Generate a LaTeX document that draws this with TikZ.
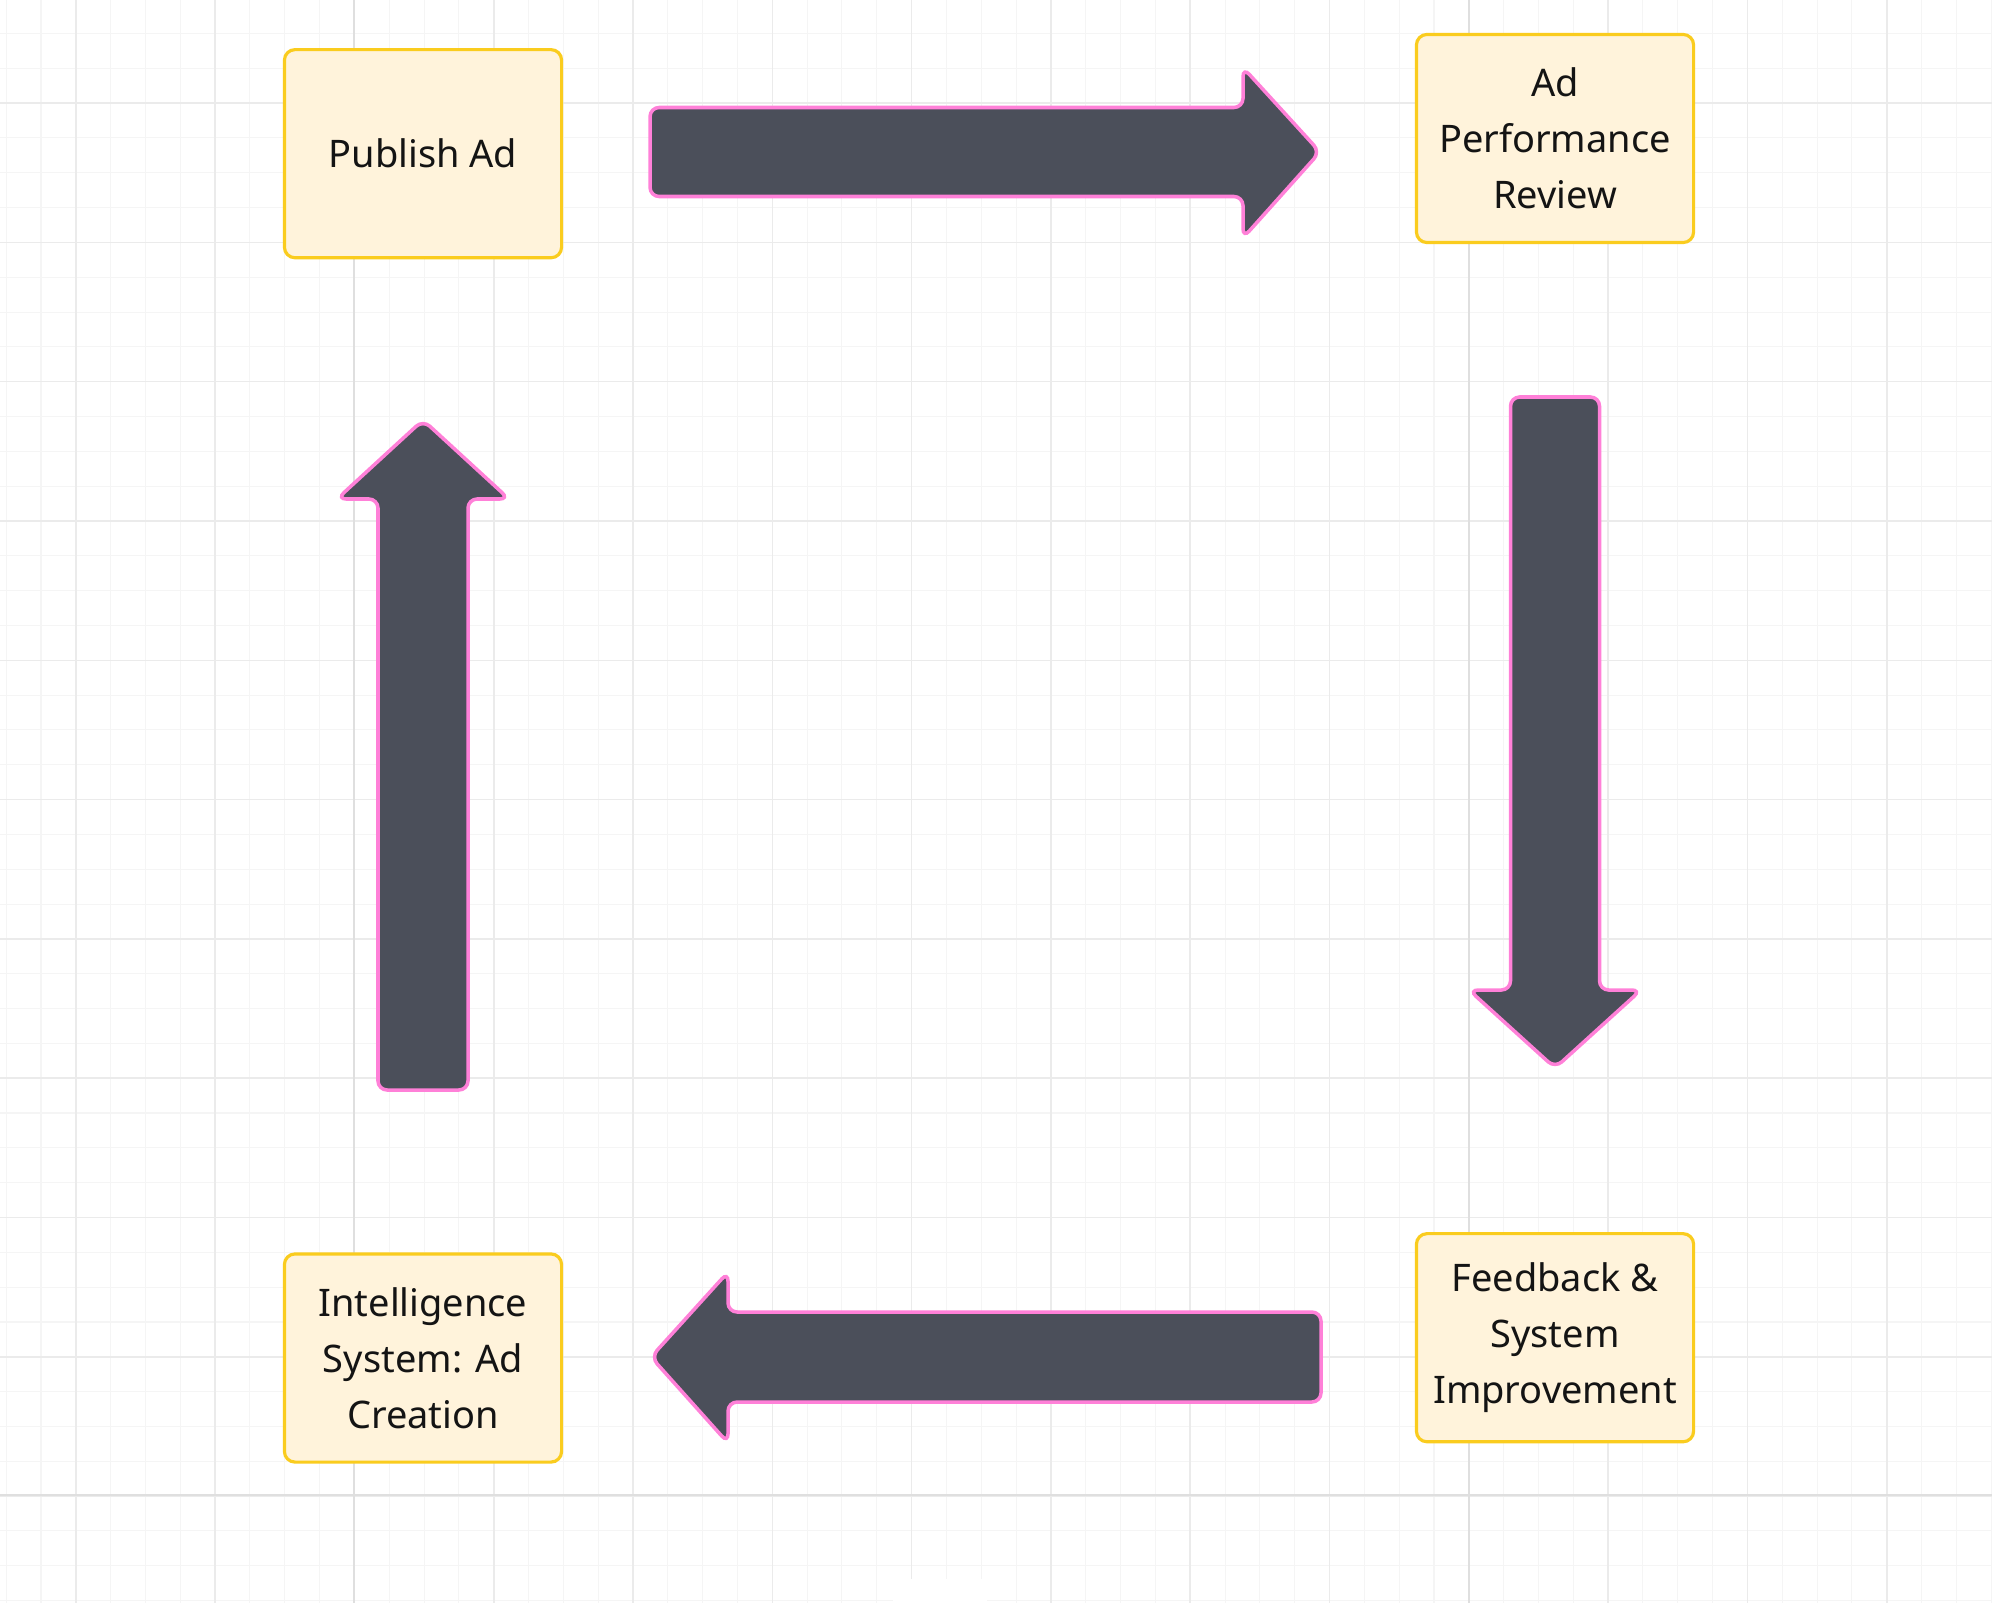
\documentclass[tikz,border=0pt]{standalone}
\usepackage{fontspec}
\setmainfont{Noto Sans}

\definecolor{boxfill}{HTML}{FFF3DB}
\definecolor{boxline}{HTML}{FACC1E}
\definecolor{arrowfill}{HTML}{4B4F5A}
\definecolor{arrowline}{HTML}{FF80D8}
\definecolor{gridminor}{HTML}{F5F5F5}
\definecolor{gridmajor}{HTML}{EBEBEB}
\definecolor{gridsuper}{HTML}{DFDFDF}
\definecolor{textdark}{HTML}{141414}

\tikzset{
    stagebox/.style={draw=boxline, line width=0.9pt, fill=boxfill, rounded corners=3pt,
        minimum width=2.77cm, minimum height=2.08cm, align=center, text=textdark,
        font=\fontsize{10.8}{15.9}\selectfont, inner sep=0pt},
    blockarrow/.style={draw=arrowline, line width=1pt, fill=arrowfill, rounded corners=2.6pt},
}

\begin{document}
\begin{tikzpicture}[x=0.01cm, y=-0.01cm]
        % canvas
        \fill[white] (0,0) rectangle (1992,1603);
        \useasboundingbox (0,0) rectangle (1992,1603);

        % Background grid
        \begin{scope}
            \clip (0,0) rectangle (1992,1603);
            \foreach \i in {0,...,60} {
                \draw[gridminor, line width=0.3pt] ({-63.5+\i*34.825},0) -- ++(0,1603);
                \draw[gridminor, line width=0.3pt] (0,{-1.4+\i*34.825}) -- ++(1992,0);
            }
            \foreach \i in {0,...,15} {
                \draw[gridmajor, line width=0.45pt] ({-63.5+\i*139.3},0) -- ++(0,1603);
                \draw[gridmajor, line width=0.45pt] (0,{-36.2+\i*139.3}) -- ++(1992,0);
            }
            \draw[gridsuper, line width=0.55pt] (354.4,0) -- (354.4,1603);
            \draw[gridsuper, line width=0.55pt] (1468.6,0) -- (1468.6,1603);
            \draw[gridsuper, line width=0.55pt] (0,1495) -- (1992,1495);
            \fill[white] (893,1579) rectangle (987,1603);
        \end{scope}

        % Stages
        \node[stagebox] (publish) at (423,153.7) {Publish Ad};
        \node[stagebox] (review) at (1555,138.5) {Ad\\Performance\\Review};
        \node[stagebox] (feedback) at (1555,1337.7) {Feedback \&\\System\\Improvement};
        \node[stagebox] (creation) at (423,1358) {Intelligence\\System: Ad\\Creation};

        % Publish -> Review
        \draw[blockarrow] (650,107.5) -- (1243,107.5) -- (1243,67.5) -- (1320,152)
            -- (1243,238) -- (1243,196.5) -- (650,196.5) -- cycle;

        % Review -> Feedback
        \draw[blockarrow] (1510.5,397) -- (1599.5,397) -- (1599.5,990) -- (1641,990)
            -- (1555,1068) -- (1469,990) -- (1510.5,990) -- cycle;

        % Feedback -> Creation
        \draw[blockarrow] (1321,1312) -- (1321,1402) -- (728,1402) -- (728,1443)
            -- (651,1357) -- (728,1272) -- (728,1312) -- cycle;

        % Creation -> Publish
        \draw[blockarrow] (378,1090) -- (378,499) -- (337,499) -- (423,420)
            -- (509,499) -- (468,499) -- (468,1090) -- cycle;

     \end{tikzpicture}
\end{document}
